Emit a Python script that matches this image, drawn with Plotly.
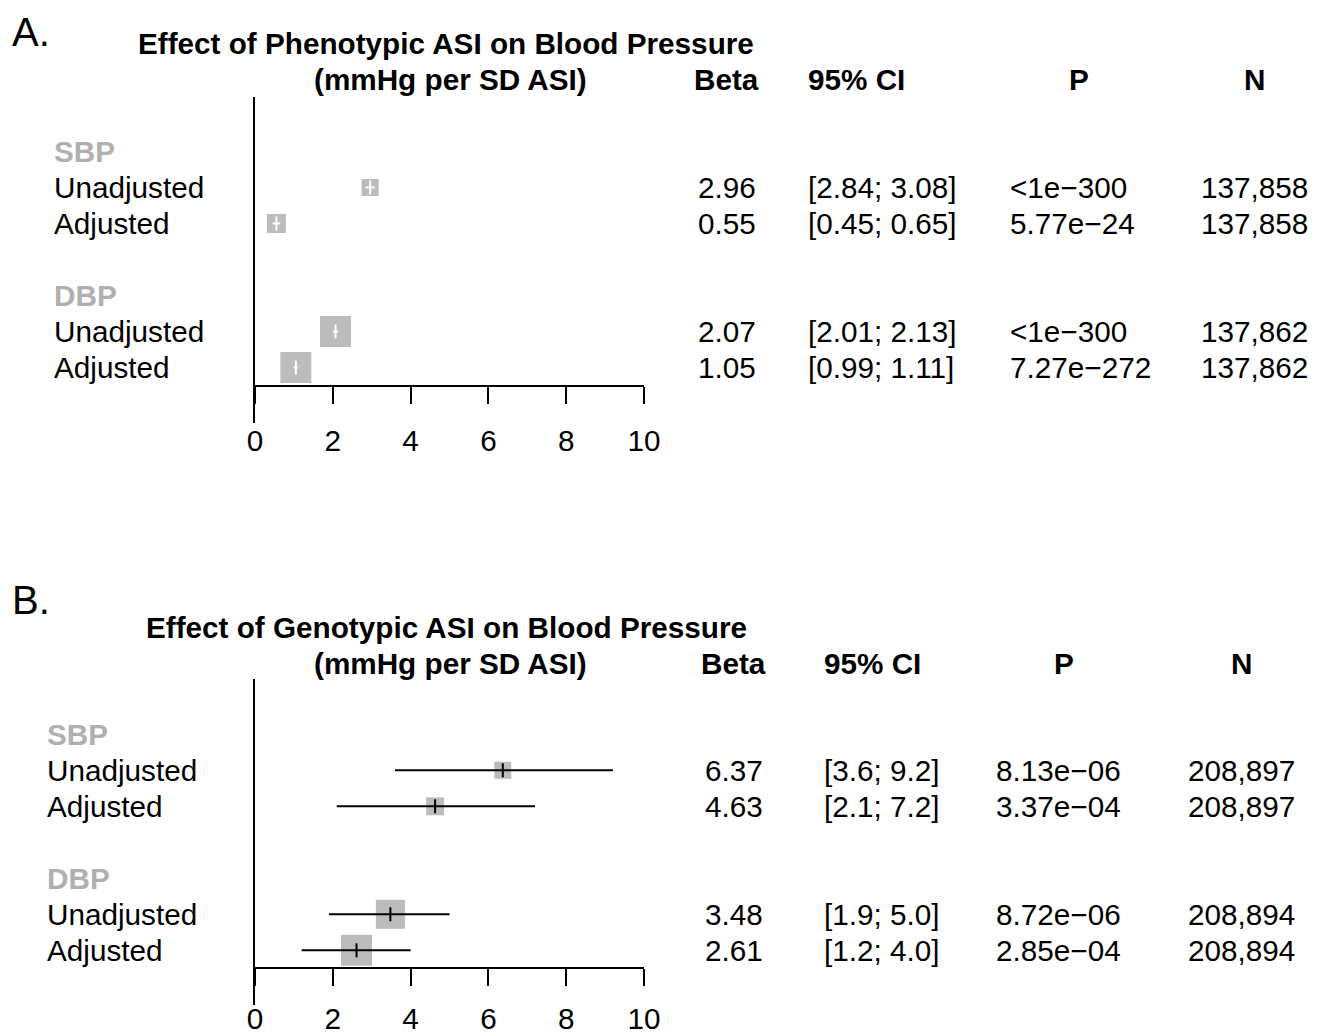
import plotly.graph_objects as go

# ---------------- data ----------------
groups = ["SBP", "DBP"]
models = ["Unadjusted", "Adjusted"]
x_ticks = [0, 2, 4, 6, 8, 10]

A_title = "Effect of Phenotypic ASI on Blood Pressure"
A_beta = [2.96, 0.55, 2.07, 1.05]
A_lo = [2.84, 0.45, 2.01, 0.99]
A_hi = [3.08, 0.65, 2.13, 1.11]
A_p = ["<1e\u2212300", "5.77e\u221224", "<1e\u2212300", "7.27e\u2212272"]
A_n = [137858, 137858, 137862, 137862]
A_box = [17, 19, 31, 31]   # box side (weight)

B_title = "Effect of Genotypic ASI on Blood Pressure"
B_beta = [6.37, 4.63, 3.48, 2.61]
B_lo = [3.6, 2.1, 1.9, 1.2]
B_hi = [9.2, 7.2, 5.0, 4.0]
B_p = ["8.13e\u221206", "3.37e\u221204", "8.72e\u221206", "2.85e\u221204"]
B_n = [208897, 208897, 208894, 208894]
B_box = [17, 18, 29, 31]

subtitle = "(mmHg per SD ASI)"
col_heads = ["Beta", "95% CI", "P", "N"]

# ---------------- layout helpers ----------------
PAGE_PAD = 8                     # default body margin of the html page
W, H = 1326 - 2 * PAGE_PAD, 1028
FONT = "Liberation Sans, Arial, Helvetica, sans-serif"
FS = 29.7
BOX_COL = "#BCBCBC"
HEAD_COL = "#B0B0B0"
LEFT_PAD = 2                     # annotation inner padding for left-anchored text


def px_x(v):
    return (v - PAGE_PAD) / W


def px_y(v):
    return 1 - (v - PAGE_PAD) / H


# row indices: group header, then model rows, then a blank row
header_rows, item_rows = [], []
r = 1
for g in groups:
    header_rows.append(r)
    r += 1
    for m in models:
        item_rows.append(r)
        r += 1
    r += 1

panels = [
    dict(letter="A.", title=A_title, beta=A_beta, lo=A_lo, hi=A_hi, p=A_p, n=A_n, box=A_box,
         dec=2, ci_col="white", row1=151.5, top=97, bottom=422.5, axis_y=386, standoff=11,
         letter_y=32, title_y=44, sub_y=80, label_x=54,
         beta_x=726.5, ci_x=808, p_head_x=1079, p_x=1010, n_x=1254),
    dict(letter="B.", title=B_title, beta=B_beta, lo=B_lo, hi=B_hi, p=B_p, n=B_n, box=B_box,
         dec=1, ci_col="black", row1=734.3, top=679, bottom=1005, axis_y=968, standoff=7,
         letter_y=600, title_y=627, sub_y=663, label_x=47,
         beta_x=733.5, ci_x=824, p_head_x=1064, p_x=996, n_x=1241),
]

X0, X1 = 255, 644
SP = 36.0

fig = go.Figure()
annotations = []
layout_axes = {}


def left_x(v):
    return px_x(v - LEFT_PAD)


for i, P in enumerate(panels):
    sfx = "" if i == 0 else str(i + 1)
    xa, ya = "x" + sfx, "y" + sfx
    top_idx = 1 + (P["top"] - P["row1"]) / SP
    bot_idx = 1 + (P["bottom"] - P["row1"]) / SP

    layout_axes["xaxis" + sfx] = dict(
        domain=[px_x(X0), px_x(X1)], range=[0, 10], anchor="free",
        position=px_y(P["axis_y"]), tickvals=x_ticks, ticks="outside",
        ticklen=17, tickwidth=2, tickcolor="black", showline=True,
        linewidth=2, linecolor="black", showgrid=False, zeroline=False,
        ticklabelstandoff=P["standoff"], automargin=False,
        tickfont=dict(family=FONT, size=FS, color="black"), fixedrange=True,
    )
    layout_axes["yaxis" + sfx] = dict(
        domain=[px_y(P["bottom"]), px_y(P["top"])], range=[bot_idx, top_idx],
        anchor=xa, showline=True, linewidth=2, linecolor="black",
        showticklabels=False, ticks="", showgrid=False, zeroline=False,
        automargin=False, fixedrange=True,
    )

    # boxes
    fig.add_trace(go.Scatter(
        x=P["beta"], y=item_rows, xaxis=xa, yaxis=ya, mode="markers",
        marker=dict(symbol="square", size=P["box"], color=BOX_COL, opacity=1,
                    line=dict(width=0)),
        showlegend=False, hoverinfo="skip", cliponaxis=False,
    ))
    # confidence intervals + estimate tick
    fig.add_trace(go.Scatter(
        x=P["beta"], y=item_rows, xaxis=xa, yaxis=ya, mode="markers",
        marker=dict(symbol="line-ns-open", size=10, color=P["ci_col"],
                    line=dict(width=2, color=P["ci_col"])),
        error_x=dict(type="data", symmetric=False,
                     array=[h - b for h, b in zip(P["hi"], P["beta"])],
                     arrayminus=[b - l for b, l in zip(P["beta"], P["lo"])],
                     width=0, thickness=2, color=P["ci_col"]),
        showlegend=False, hoverinfo="skip", cliponaxis=False,
    ))

    # panel letter, title
    annotations.append(dict(text=P["letter"], xref="paper", yref="paper",
                            x=px_x(10), y=px_y(P["letter_y"]), xanchor="left", yanchor="middle",
                            showarrow=False, font=dict(family=FONT, size=40, color="black")))
    annotations.append(dict(text="<b>" + P["title"] + "</b>", xref="paper", yref="paper",
                            x=px_x(446), y=px_y(P["title_y"]), xanchor="center", yanchor="middle",
                            showarrow=False, font=dict(family=FONT, size=FS, color="black")))
    annotations.append(dict(text="<b>" + subtitle + "</b>", xref="paper", yref="paper",
                            x=px_x(450), y=px_y(P["sub_y"]), xanchor="center", yanchor="middle",
                            showarrow=False, font=dict(family=FONT, size=FS, color="black")))
    # column headers
    heads = [(col_heads[0], px_x(P["beta_x"]), "center"), (col_heads[1], left_x(P["ci_x"]), "left"),
             (col_heads[2], px_x(P["p_head_x"]), "center"), (col_heads[3], px_x(P["n_x"]), "center")]
    for t, hx, anc in heads:
        annotations.append(dict(text="<b>" + t + "</b>", xref="paper", yref="paper",
                                x=hx, y=px_y(P["sub_y"]), xanchor=anc, yanchor="middle",
                                showarrow=False, font=dict(family=FONT, size=FS, color="black")))

    # group header labels
    for g, hr in zip(groups, header_rows):
        annotations.append(dict(text="<b>" + g + "</b>", xref="paper", yref=ya,
                                x=left_x(P["label_x"]), y=hr, xanchor="left", yanchor="middle",
                                showarrow=False, font=dict(family=FONT, size=FS, color=HEAD_COL)))
    # row labels and text columns
    k = 0
    for g in groups:
        for m in models:
            row = item_rows[k]
            fmt = "{:.%df}" % P["dec"]
            ci_txt = "[" + fmt.format(P["lo"][k]) + "; " + fmt.format(P["hi"][k]) + "]"
            cells = [
                (m, left_x(P["label_x"]), "left"),
                ("{:.2f}".format(P["beta"][k]), px_x(P["beta_x"]), "center"),
                (ci_txt, left_x(P["ci_x"]), "left"),
                (P["p"][k], left_x(P["p_x"]), "left"),
                ("{:,}".format(P["n"][k]), px_x(P["n_x"]), "center"),
            ]
            for t, cx, anc in cells:
                annotations.append(dict(text=t, xref="paper", yref=ya, x=cx, y=row,
                                        xanchor=anc, yanchor="middle", showarrow=False,
                                        font=dict(family=FONT, size=FS, color="black")))
            k += 1

fig.update_layout(
    width=W, height=H, margin=dict(l=0, r=0, t=0, b=0, autoexpand=False),
    paper_bgcolor="white", plot_bgcolor="white",
    annotations=annotations, showlegend=False, **layout_axes,
)

fig.write_html("out.html")
